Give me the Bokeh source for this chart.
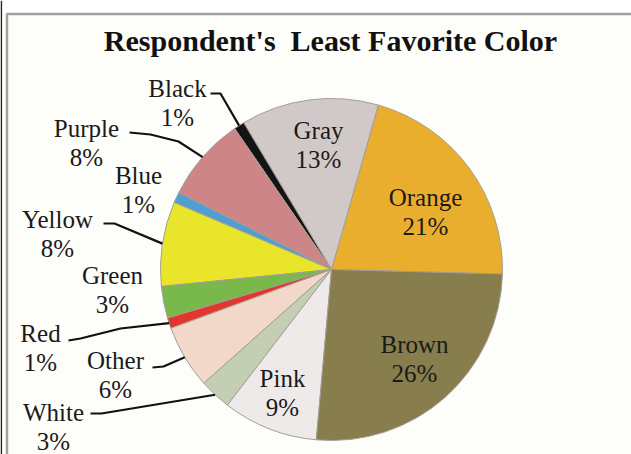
import math
from bokeh.plotting import figure
from bokeh.models import Range1d, ColumnDataSource
from bokeh.core.properties import value
from bokeh.embed import file_html
from bokeh.resources import INLINE

# ---- data ----
categories = ["Orange", "Gray", "Black", "Purple", "Blue", "Yellow",
              "Green", "Red", "Other", "White", "Pink", "Brown"]
percents = [21, 13, 1, 8, 1, 8, 3, 1, 6, 3, 9, 26]
fills = ["#eaae2e", "#d0c9c7", "#141414", "#cd8587", "#4f9fd3", "#e9e52b",
         "#79b94c", "#e2352b", "#f2d8c8", "#c4ceb3", "#eeeaea", "#877d4d"]
title_text = "Respondent's\u00a0 Least Favorite Color"

# ---- layout (pixel coords, y measured from top) ----
W, H = 631, 454
CX, CY, R = 331, 269, 171
START_DEG = -1.5
label_pos = {
    "Orange": (425, 197), "Gray": (318, 130), "Black": (177, 88),
    "Purple": (86, 128), "Blue": (138, 175), "Yellow": (57, 219),
    "Green": (112, 275), "Red": (40, 333), "Other": (115, 360),
    "White": (53, 412), "Pink": (282, 378), "Brown": (414, 344),
}
LINE_GAP = 29
leader_start = {
    "Black": [(210, 93), (220, 93)],
    "Purple": [(129, 132), (150, 134), (178, 141)],
    "Yellow": [(103, 223), (114, 223)],
    "Red": [(68, 340), (80, 338), (120, 328)],
    "Other": [(152, 367), (163, 366)],
    "White": [(90, 413), (101, 413)],
}

def fy(y):
    return H - y

starts, ends = [], []
acc = START_DEG
for pc in percents:
    starts.append(math.radians(acc))
    acc += pc * 3.6
    ends.append(math.radians(acc))

p = figure(width=W, height=H, x_range=Range1d(0, W), y_range=Range1d(0, H),
           output_backend="svg", toolbar_location=None, min_border=0)
p.axis.visible = False
p.grid.visible = False
p.outline_line_color = None
p.background_fill_color = "white"
p.border_fill_color = "white"

# frame
p.quad(left=[6.5], right=[W + 20], top=[fy(13.5)], bottom=[-20],
       fill_color="#fdfdf9", line_color="#a0a0a0", line_width=2.5)
p.segment(x0=[0.8], y0=[0], x1=[0.8], y1=[H], line_color="#222222", line_width=1.6)

src = ColumnDataSource(dict(cat=categories, pct=percents, color=fills,
                            start=starts, end=ends))
p.wedge(x=CX, y=fy(CY), radius=R, start_angle="start", end_angle="end",
        fill_color="color", line_color="#a39e95", line_width=1, source=src)

# leader lines
for i, cat in enumerate(categories):
    if cat in leader_start:
        mid = (starts[i] + ends[i]) / 2
        ex = CX + R * math.cos(mid)
        ey = CY - R * math.sin(mid)
        pts = leader_start[cat] + [(ex, ey)]
        p.line([q[0] for q in pts], [fy(q[1]) for q in pts],
               line_color="#111111", line_width=2.2)

# labels
names_x, names_y, pct_y, pct_txt = [], [], [], []
for i, cat in enumerate(categories):
    x, y = label_pos[cat]
    names_x.append(x)
    names_y.append(fy(y))
    pct_y.append(fy(y + LINE_GAP))
    pct_txt.append(f"{percents[i]}%")

font = value("Liberation Serif")
p.text(x=names_x, y=names_y, text=categories, text_font=font,
       text_font_size="25px", text_align="center", text_baseline="middle",
       text_color="#1a1a1a")
p.text(x=names_x, y=pct_y, text=pct_txt, text_font=font,
       text_font_size="25px", text_align="center", text_baseline="middle",
       text_color="#1a1a1a")

p.text(x=[330], y=[fy(40)], text=[title_text], text_font=font,
       text_font_size="30px", text_font_style="bold", text_align="center",
       text_baseline="middle", text_color="#111111")

open("out.html", "w").write(file_html(p, INLINE))
